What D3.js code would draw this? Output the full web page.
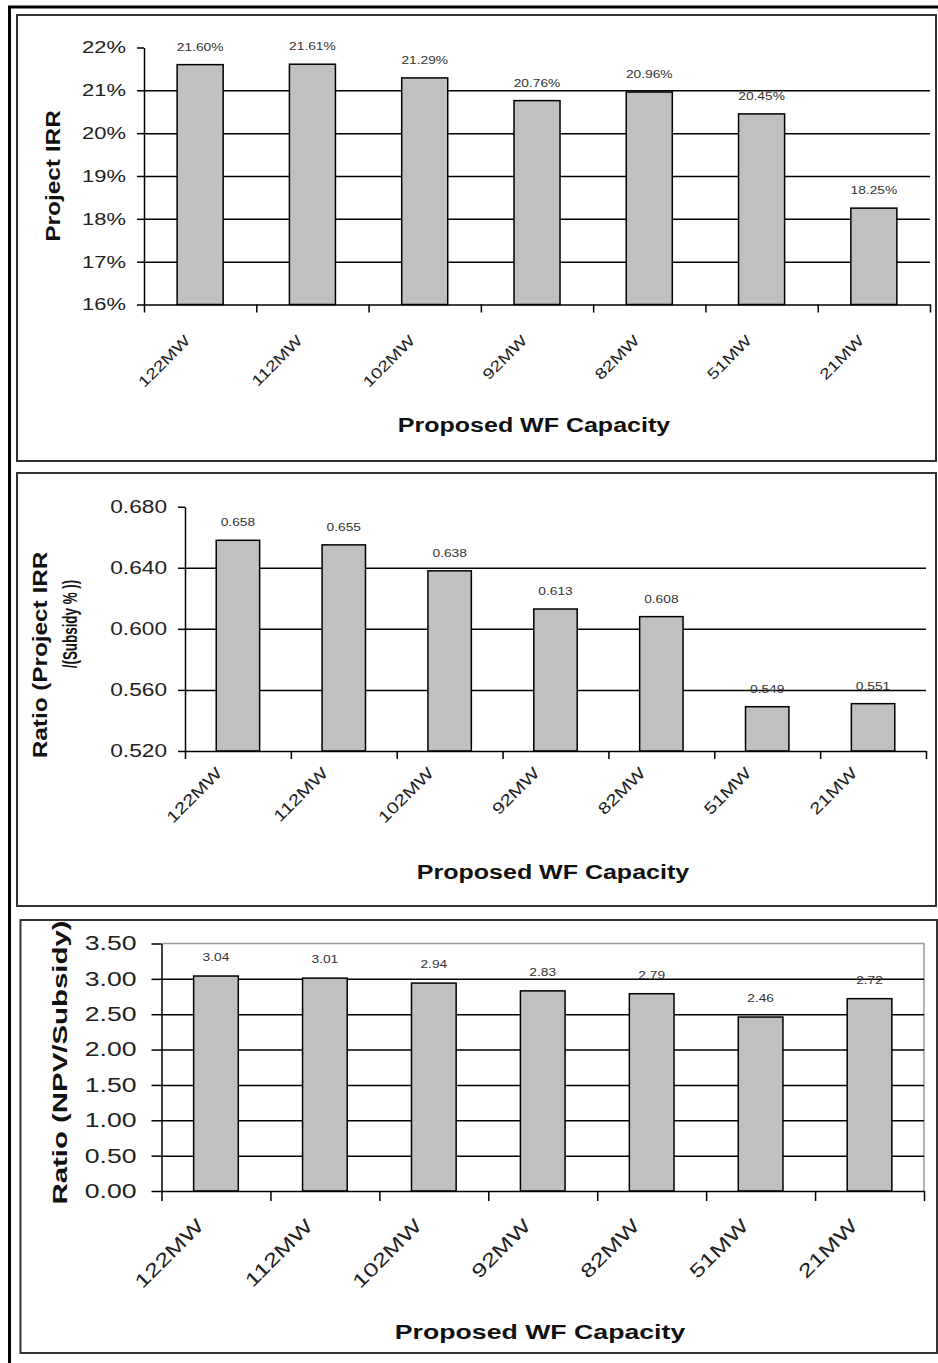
<!DOCTYPE html>
<html>
<head>
<meta charset="utf-8">
<script src="https://cdn.jsdelivr.net/npm/d3@7"></script>
<style>
body { margin: 0; background: #fff; }
</style>
</head>
<body>
<div id="viz"></div>
<script>
// data
const categories = ["122MW", "112MW", "102MW", "92MW", "82MW", "51MW", "21MW"];
const irrValues = [21.60, 21.61, 21.29, 20.76, 20.96, 20.45, 18.25];
const irrRatioValues = [0.658, 0.655, 0.638, 0.613, 0.608, 0.549, 0.551];
const npvRatioValues = [3.04, 3.01, 2.94, 2.83, 2.79, 2.46, 2.72];
const irrTicks = [16, 17, 18, 19, 20, 21, 22];
const irrRatioTicks = [0.52, 0.56, 0.60, 0.64, 0.68];
const npvRatioTicks = [0, 0.5, 1.0, 1.5, 2.0, 2.5, 3.0, 3.5];
const xTitle = "Proposed WF Capacity";

const FONT = "Arial, 'Liberation Sans', sans-serif";

// the source image is stretched sideways, so text gets widened too
function stretch(sel, k) {
	sel.each(function () {
		let w = this.getComputedTextLength();
		d3.select(this).attr("textLength", w * k).attr("lengthAdjust", "spacingAndGlyphs");
	});
}

let svg = d3.select("#viz").append("svg")
	.attr("width", 938).attr("height", 1363);

svg.append("rect").attr("width", 938).attr("height", 1363).style("fill", "#fff");

// outer frame
svg.append("rect")
	.attr("x", 9.5).attr("y", 7).attr("width", 940).attr("height", 1370)
	.style("fill", "none").style("stroke", "#000").style("stroke-width", 3);

function drawChart(c, values, ticks) {
	let g = svg.append("g");

	// panel box
	g.append("rect")
		.attr("x", c.box[0]).attr("y", c.box[1])
		.attr("width", c.box[2] - c.box[0]).attr("height", c.box[3] - c.box[1])
		.style("fill", "#fff").style("stroke", "#333").style("stroke-width", 2);

	let x = d3.scaleBand().domain(categories)
		.range([c.left, c.right]).paddingInner(0.59).paddingOuter(0.295);
	let y = d3.scaleLinear().domain([ticks[0], ticks[ticks.length - 1]])
		.range([c.bottom, c.top]);

	if (c.grayFrame) {
		g.append("path")
			.attr("d", "M" + c.left + "," + c.top + "H" + c.right + "V" + c.bottom)
			.style("fill", "none").style("stroke", "#999").style("stroke-width", 1.5);
	}

	// gridlines
	let grid = g.append("g")
		.attr("transform", "translate(" + c.left + ",0)")
		.call(d3.axisLeft(y).tickValues(ticks.slice(1, -1))
			.tickSize(-(c.right - c.left)).tickFormat(""));
	grid.select(".domain").remove();
	grid.selectAll("line").style("stroke", "#000").style("stroke-width", 1.5);

	// bars
	g.selectAll(".bar").data(values).enter().append("rect")
		.attr("x", (d, i) => x(categories[i]))
		.attr("y", d => y(d))
		.attr("width", x.bandwidth())
		.attr("height", d => c.bottom - y(d))
		.style("fill", "#c0c0c0")
		.style("stroke", "#000")
		.style("stroke-width", 1.5);

	// value labels
	let vl = g.selectAll(".val").data(values).enter().append("text")
		.text(c.valFmt)
		.attr("x", (d, i) => x(categories[i]) + x.bandwidth() / 2)
		.attr("y", d => y(d) - c.valGap)
		.attr("text-anchor", "middle")
		.style("font-family", FONT)
		.style("font-size", "11px")
		.style("fill", "#333");
	stretch(vl, 1.25);

	// y axis
	let ya = g.append("g")
		.attr("transform", "translate(" + c.left + ",0)")
		.call(d3.axisLeft(y).tickValues(ticks).tickSize(c.yTick).tickSizeOuter(0)
			.tickPadding(c.yPad).tickFormat(c.tickFmt));
	ya.attr("font-family", FONT).attr("font-size", c.yFont);
	ya.selectAll("path, line").style("stroke", "#000").style("stroke-width", 1.5);
	ya.selectAll("text").style("fill", "#222");
	stretch(ya.selectAll("text"), c.yK);

	// x axis with ticks at band edges
	let idx = d3.scaleLinear().domain([0, categories.length]).range([c.left, c.right]);
	let xa = g.append("g")
		.attr("transform", "translate(0," + c.bottom + ")")
		.call(d3.axisBottom(idx).tickValues(d3.range(categories.length + 1))
			.tickSize(c.xTick).tickSizeOuter(0).tickFormat(""));
	xa.selectAll("path, line").style("stroke", "#000").style("stroke-width", 1.5);

	// category labels, rotated
	let xl = g.append("g")
		.attr("transform", "translate(0," + c.bottom + ")")
		.call(d3.axisBottom(x).tickSize(0));
	xl.attr("font-family", FONT).attr("font-size", c.catFont);
	xl.select(".domain").remove();
	let ct = xl.selectAll("text")
		.attr("x", c.catDx).attr("y", c.catDy).attr("dy", null)
		.attr("text-anchor", "end")
		.attr("transform", "rotate(-45 " + c.catDx + " " + c.catDy + ")")
		.style("fill", "#222");
	stretch(ct, c.catK);

	// x title
	let xt = g.append("text").text(xTitle)
		.attr("x", c.xTitle[0]).attr("y", c.xTitle[1])
		.attr("text-anchor", "middle")
		.style("font-family", FONT).style("font-weight", "bold")
		.style("font-size", c.xTitleFont + "px").style("fill", "#111");
	stretch(xt, c.xTitleK);

	// y title lines
	c.yTitle.forEach(t => {
		let yt = g.append("text").text(t.text)
			.attr("transform", "translate(" + t.x + "," + t.y + ") rotate(-90)")
			.attr("text-anchor", "middle")
			.style("font-family", FONT).style("font-weight", "bold")
			.style("font-size", t.size + "px").style("fill", "#111");
		stretch(yt, t.k);
	});
}

drawChart({
	box: [17, 15, 936, 461],
	left: 144, right: 930, top: 47.5, bottom: 304.5,
	yTick: 7, yPad: 11, yFont: 17, yK: 1.29,
	xTick: 8,
	catFont: 15, catDx: -9, catDy: 37, catK: 1.28,
	valGap: 14,
	tickFmt: d => d + "%",
	valFmt: d => d.toFixed(2) + "%",
	xTitle: [534, 432], xTitleFont: 20, xTitleK: 1.25,
	yTitle: [{ text: "Project IRR", x: 60, y: 176, size: 20, k: 1.22 }]
}, irrValues, irrTicks);

drawChart({
	box: [17, 473, 936, 906],
	left: 185, right: 926, top: 506.7, bottom: 751,
	yTick: 7, yPad: 11, yFont: 18, yK: 1.26,
	xTick: 8,
	catFont: 16, catDx: -15, catDy: 23, catK: 1.28,
	valGap: 14,
	tickFmt: d => d.toFixed(3),
	valFmt: d => d.toFixed(3),
	xTitle: [553, 879], xTitleFont: 20, xTitleK: 1.25,
	yTitle: [
		{ text: "Ratio (Project IRR", x: 47, y: 655, size: 20, k: 1.215 },
		{ text: "/(Subsidy % ))", x: 77, y: 624, size: 20, k: 0.67 }
	]
}, irrRatioValues, irrRatioTicks);

drawChart({
	box: [20.5, 920, 937, 1353],
	left: 161.5, right: 924, top: 943.5, bottom: 1191,
	yTick: 10, yPad: 15, yFont: 20, yK: 1.33,
	xTick: 10,
	catFont: 19, catDx: -11, catDy: 36, catK: 1.35,
	valGap: 15,
	grayFrame: true,
	tickFmt: d => d.toFixed(2),
	valFmt: d => d.toFixed(2),
	xTitle: [540, 1339], xTitleFont: 21, xTitleK: 1.27,
	yTitle: [{ text: "Ratio (NPV/Subsidy)", x: 67, y: 1062.5, size: 21, k: 1.4 }]
}, npvRatioValues, npvRatioTicks);
</script>
</body>
</html>
